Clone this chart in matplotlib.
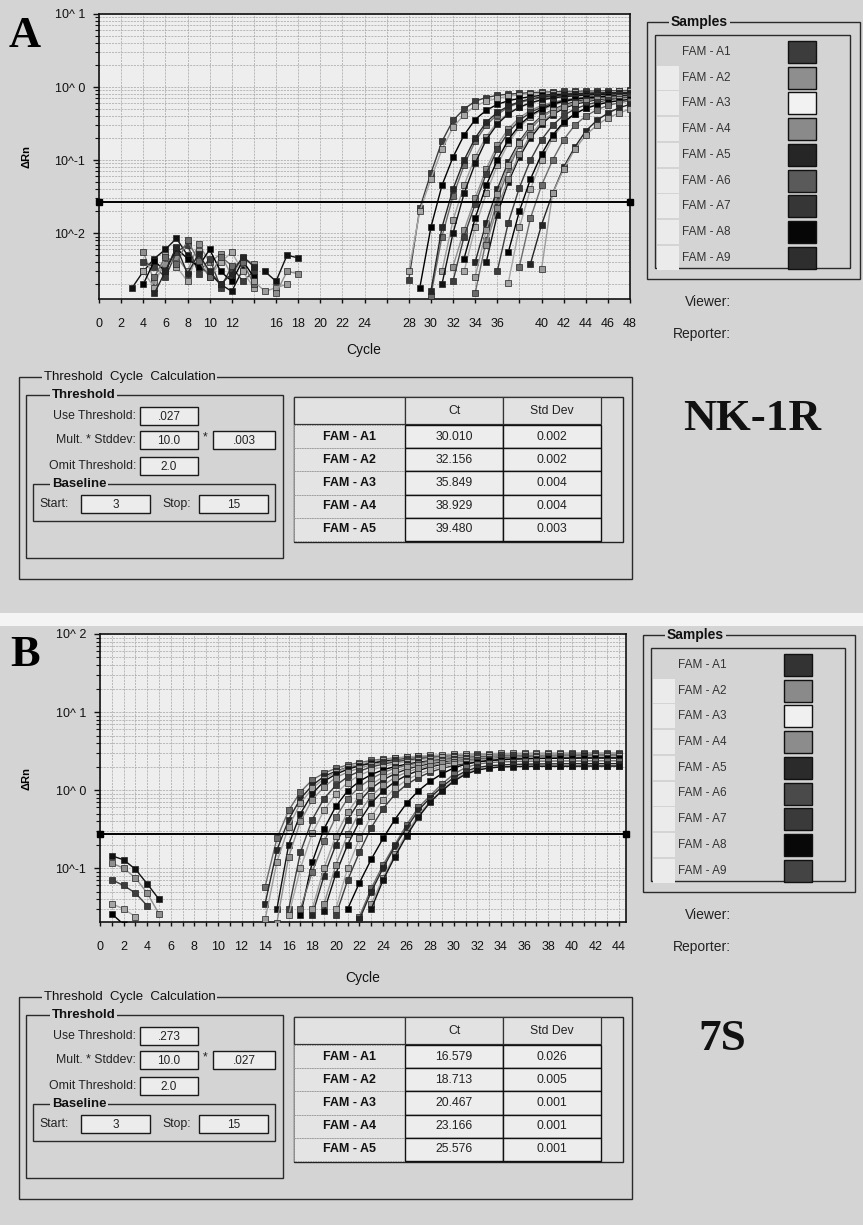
import numpy as np
import matplotlib
matplotlib.use("Agg")
from matplotlib import pyplot as plt
from matplotlib.patches import Rectangle

plt.rcParams['font.family'] = ['Liberation Sans', 'DejaVu Sans']

# ---------------- data ----------------
samples = ["FAM - A1", "FAM - A2", "FAM - A3", "FAM - A4", "FAM - A5",
           "FAM - A6", "FAM - A7", "FAM - A8", "FAM - A9"]
table_rows = samples[:5]

a_ct = ["30.010", "32.156", "35.849", "38.929", "39.480"]
a_sd = ["0.002", "0.002", "0.004", "0.004", "0.003"]
b_ct = ["16.579", "18.713", "20.467", "23.166", "25.576"]
b_sd = ["0.026", "0.005", "0.001", "0.001", "0.001"]

a_fields = {"use": ".027", "mult": "10.0", "std": ".003", "omit": "2.0", "start": "3", "stop": "15"}
b_fields = {"use": ".273", "mult": "10.0", "std": ".027", "omit": "2.0", "start": "3", "stop": "15"}

a_threshold = 0.027
b_threshold = 0.273

a_xlabels = [0, 2, 4, 6, 8, 10, 12, 16, 18, 20, 22, 24, 28, 30, 32, 34, 36, 40, 42, 44, 46, 48]
b_xlabels = list(range(0, 45, 2))
a_ylabels = {10.0: "10^ 1", 1.0: "10^ 0", 0.1: "10^-1", 0.01: "10^-2"}
b_ylabels = {100.0: "10^ 2", 10.0: "10^ 1", 1.0: "10^ 0", 0.1: "10^-1"}

# (first cycle, delta Rn per cycle)
a_curves = [
    (28, [0.0023, 0.022, 0.066, 0.18, 0.35, 0.50, 0.64, 0.72, 0.77, 0.80, 0.82, 0.84, 0.85, 0.86, 0.87, 0.87, 0.88, 0.88, 0.89, 0.89, 0.90]),
    (28, [0.0030, 0.020, 0.055, 0.14, 0.28, 0.42, 0.55, 0.64, 0.70, 0.75, 0.78, 0.80, 0.82, 0.83, 0.84, 0.85, 0.85, 0.86, 0.86, 0.87, 0.87]),
    (29, [0.0018, 0.012, 0.045, 0.11, 0.22, 0.36, 0.48, 0.58, 0.65, 0.70, 0.74, 0.77, 0.79, 0.80, 0.81, 0.82, 0.83, 0.83, 0.84, 0.84]),
    (30, [0.0014, 0.009, 0.032, 0.085, 0.18, 0.30, 0.42, 0.53, 0.61, 0.67, 0.71, 0.74, 0.76, 0.78, 0.79, 0.80, 0.81, 0.82, 0.82]),
    (30, [0.0016, 0.012, 0.040, 0.10, 0.20, 0.33, 0.45, 0.55, 0.63, 0.69, 0.73, 0.76, 0.78, 0.80, 0.81, 0.82, 0.83, 0.83, 0.84]),
    (31, [0.0030, 0.015, 0.045, 0.11, 0.21, 0.33, 0.44, 0.53, 0.60, 0.66, 0.70, 0.73, 0.75, 0.77, 0.78, 0.79, 0.80, 0.81]),
    (31, [0.0020, 0.010, 0.035, 0.09, 0.19, 0.31, 0.43, 0.53, 0.61, 0.67, 0.71, 0.74, 0.76, 0.78, 0.79, 0.80, 0.81, 0.81]),
    (32, [0.0035, 0.011, 0.030, 0.075, 0.16, 0.27, 0.38, 0.48, 0.56, 0.62, 0.67, 0.70, 0.73, 0.75, 0.76, 0.77, 0.78]),
    (32, [0.0022, 0.009, 0.025, 0.065, 0.14, 0.24, 0.35, 0.45, 0.53, 0.60, 0.65, 0.69, 0.72, 0.74, 0.75, 0.76, 0.77]),
    (33, [0.0030, 0.012, 0.035, 0.085, 0.17, 0.28, 0.39, 0.48, 0.56, 0.62, 0.67, 0.70, 0.73, 0.74, 0.75, 0.76]),
    (33, [0.0045, 0.016, 0.045, 0.10, 0.19, 0.30, 0.41, 0.50, 0.58, 0.64, 0.68, 0.71, 0.73, 0.75, 0.76, 0.77]),
    (34, [0.0015, 0.008, 0.028, 0.075, 0.16, 0.27, 0.38, 0.48, 0.56, 0.62, 0.67, 0.70, 0.72, 0.74, 0.75]),
    (34, [0.0040, 0.014, 0.040, 0.095, 0.18, 0.29, 0.40, 0.49, 0.57, 0.63, 0.67, 0.70, 0.72, 0.73, 0.74]),
    (34, [0.0025, 0.011, 0.034, 0.085, 0.17, 0.28, 0.39, 0.48, 0.55, 0.61, 0.65, 0.68, 0.70, 0.72, 0.73]),
    (35, [0.0040, 0.018, 0.050, 0.11, 0.20, 0.31, 0.42, 0.51, 0.58, 0.63, 0.67, 0.70, 0.72, 0.73]),
    (35, [0.0070, 0.022, 0.055, 0.12, 0.22, 0.33, 0.44, 0.53, 0.60, 0.65, 0.69, 0.71, 0.73, 0.74]),
    (36, [0.0030, 0.014, 0.042, 0.10, 0.19, 0.30, 0.41, 0.50, 0.57, 0.62, 0.66, 0.69, 0.71]),
    (37, [0.0021, 0.012, 0.040, 0.10, 0.20, 0.32, 0.43, 0.52, 0.59, 0.64, 0.68, 0.70]),
    (37, [0.0055, 0.020, 0.055, 0.12, 0.22, 0.33, 0.43, 0.51, 0.57, 0.62, 0.65, 0.68]),
    (38, [0.0035, 0.016, 0.045, 0.10, 0.19, 0.30, 0.40, 0.49, 0.56, 0.61, 0.65]),
    (39, [0.0038, 0.013, 0.035, 0.080, 0.15, 0.25, 0.35, 0.44, 0.52, 0.58]),
    (40, [0.0032, 0.035, 0.075, 0.14, 0.22, 0.30, 0.38, 0.44, 0.50]),
]
a_noise = [
    (3, [0.0018, 0.0030, 0.0045, 0.0060, 0.0085, 0.0050, 0.0035, 0.0028, 0.0020, 0.0016, 0.0032]),
    (4, [0.0056, 0.0022, 0.0038, 0.0048, 0.0030, 0.0072, 0.0040, 0.0052, 0.0026, 0.0046, 0.0038]),
    (4, [0.0040, 0.0035, 0.0025, 0.0055, 0.0070, 0.0028, 0.0045, 0.0018, 0.0035, 0.0022, 0.0030]),
    (4, [0.0030, 0.0018, 0.0050, 0.0035, 0.0022, 0.0058, 0.0025, 0.0040, 0.0055, 0.0030, 0.0018]),
    (4, [0.0020, 0.0042, 0.0030, 0.0062, 0.0045, 0.0035, 0.0060, 0.0030, 0.0022, 0.0042, 0.0025]),
    (5, [0.0025, 0.0048, 0.0038, 0.0080, 0.0042, 0.0025, 0.0048, 0.0036, 0.0040, 0.0020]),
    (5, [0.0015, 0.0030, 0.0065, 0.0028, 0.0052, 0.0030, 0.0020, 0.0028, 0.0048, 0.0035]),
    (14, [0.0022, 0.0016, 0.0018, 0.0020]),
    (15, [0.0030, 0.0022, 0.0050, 0.0046]),
    (16, [0.0015, 0.0030, 0.0028]),
]

b_curves = [
    (14, [.058, .24, .55, .95, 1.35, 1.65, 1.9, 2.1, 2.25, 2.4, 2.5, 2.58, 2.65, 2.7, 2.72, 2.75, 2.78, 2.8, 2.8, 2.82, 2.83, 2.84, 2.85, 2.85, 2.86, 2.86, 2.87, 2.87, 2.88, 2.88, 2.88]),
    (14, [.035, .17, .42, .78, 1.15, 1.5, 1.75, 1.95, 2.1, 2.25, 2.35, 2.45, 2.52, 2.58, 2.62, 2.65, 2.68, 2.7, 2.72, 2.73, 2.74, 2.75, 2.76, 2.76, 2.77, 2.77, 2.78, 2.78, 2.78, 2.79, 2.79]),
    (14, [.022, .12, .34, .68, 1.05, 1.4, 1.7, 1.95, 2.15, 2.3, 2.45, 2.55, 2.65, 2.72, 2.78, 2.82, 2.86, 2.9, 2.92, 2.94, 2.95, 2.96, 2.97, 2.98, 2.98, 2.99, 2.99, 3.0, 3.0, 3.0, 3.0]),
    (15, [.03, .2, .5, .9, 1.3, 1.6, 1.85, 2.05, 2.2, 2.32, 2.42, 2.5, 2.56, 2.6, 2.63, 2.66, 2.68, 2.7, 2.71, 2.72, 2.73, 2.74, 2.74, 2.75, 2.75, 2.76, 2.76, 2.76, 2.77, 2.77]),
    (15, [.02, .14, .4, .75, 1.1, 1.45, 1.7, 1.92, 2.1, 2.25, 2.38, 2.48, 2.56, 2.62, 2.68, 2.72, 2.75, 2.78, 2.8, 2.82, 2.83, 2.84, 2.85, 2.86, 2.86, 2.87, 2.87, 2.88, 2.88, 2.88]),
    (16, [.03, .16, .42, .78, 1.15, 1.48, 1.75, 1.98, 2.15, 2.3, 2.42, 2.52, 2.6, 2.66, 2.7, 2.74, 2.77, 2.79, 2.81, 2.82, 2.83, 2.84, 2.85, 2.85, 2.86, 2.86, 2.87, 2.87, 2.87]),
    (16, [.025, .1, .28, .55, .9, 1.25, 1.55, 1.8, 2.0, 2.18, 2.32, 2.44, 2.54, 2.62, 2.68, 2.73, 2.77, 2.8, 2.82, 2.84, 2.86, 2.87, 2.88, 2.89, 2.9, 2.9, 2.91, 2.91, 2.91]),
    (17, [.025, .12, .32, .62, .98, 1.3, 1.58, 1.82, 2.0, 2.15, 2.28, 2.38, 2.46, 2.52, 2.57, 2.6, 2.63, 2.65, 2.67, 2.68, 2.69, 2.7, 2.7, 2.71, 2.71, 2.72, 2.72, 2.72]),
    (17, [.03, .09, .22, .45, .78, 1.1, 1.4, 1.68, 1.9, 2.08, 2.22, 2.34, 2.44, 2.52, 2.58, 2.63, 2.67, 2.7, 2.72, 2.74, 2.75, 2.76, 2.77, 2.78, 2.78, 2.79, 2.79, 2.79]),
    (18, [.025, .08, .2, .42, .72, 1.05, 1.35, 1.62, 1.85, 2.03, 2.18, 2.3, 2.4, 2.48, 2.54, 2.58, 2.62, 2.65, 2.67, 2.69, 2.7, 2.71, 2.72, 2.72, 2.73, 2.73, 2.73]),
    (18, [.03, .1, .26, .52, .85, 1.18, 1.48, 1.74, 1.95, 2.12, 2.26, 2.37, 2.46, 2.53, 2.58, 2.62, 2.65, 2.68, 2.7, 2.71, 2.72, 2.73, 2.74, 2.74, 2.75, 2.75, 2.75]),
    (19, [.028, .085, .2, .4, .68, .98, 1.28, 1.55, 1.78, 1.98, 2.14, 2.27, 2.37, 2.45, 2.51, 2.56, 2.6, 2.63, 2.65, 2.67, 2.68, 2.69, 2.7, 2.7, 2.71, 2.71]),
    (19, [.035, .11, .27, .52, .84, 1.15, 1.45, 1.7, 1.9, 2.06, 2.2, 2.3, 2.38, 2.45, 2.5, 2.54, 2.57, 2.6, 2.62, 2.63, 2.64, 2.65, 2.66, 2.66, 2.67, 2.67]),
    (20, [.025, .07, .16, .33, .58, .88, 1.18, 1.45, 1.7, 1.9, 2.06, 2.2, 2.3, 2.38, 2.44, 2.49, 2.53, 2.56, 2.58, 2.6, 2.61, 2.62, 2.63, 2.63, 2.64]),
    (20, [.03, .1, .24, .46, .75, 1.05, 1.35, 1.6, 1.82, 2.0, 2.15, 2.27, 2.37, 2.45, 2.51, 2.56, 2.6, 2.63, 2.65, 2.67, 2.68, 2.69, 2.7, 2.7, 2.71]),
    (21, [.03, .065, .13, .24, .42, .68, .98, 1.3, 1.62, 1.92, 2.15, 2.3, 2.4, 2.46, 2.5, 2.52, 2.54, 2.55, 2.56, 2.56, 2.57, 2.57, 2.57, 2.57]),
    (22, [.024, .055, .11, .2, .36, .6, .85, 1.2, 1.6, 1.95, 2.15, 2.25, 2.3, 2.32, 2.34, 2.35, 2.35, 2.36, 2.36, 2.36, 2.37, 2.37, 2.37]),
    (22, [.022, .05, .1, .19, .33, .55, .8, 1.1, 1.45, 1.75, 1.95, 2.05, 2.1, 2.13, 2.15, 2.16, 2.17, 2.17, 2.18, 2.18, 2.18, 2.18, 2.18]),
    (23, [.035, .075, .15, .28, .48, .72, 1.0, 1.35, 1.65, 1.85, 1.95, 2.0, 2.02, 2.03, 2.04, 2.04, 2.05, 2.05, 2.05, 2.05, 2.05, 2.05]),
    (23, [.03, .07, .14, .26, .45, .7, .98, 1.3, 1.6, 1.8, 1.92, 1.98, 2.0, 2.01, 2.02, 2.02, 2.02, 2.02, 2.03, 2.03, 2.03, 2.03]),
]
b_early = [
    (1, [0.144, 0.128, 0.097, 0.063, 0.040]),
    (1, [0.116, 0.100, 0.075, 0.048, 0.026]),
    (1, [0.071, 0.060, 0.048, 0.033]),
    (1, [0.035, 0.030, 0.024]),
    (1, [0.026, 0.019]),
]

a_swatches = ['#3c3c3c', '#8e8e8e', '#f2f2f2', '#8a8a8a', '#262626', '#5a5a5a', '#363636', '#060606', '#2e2e2e']
b_swatches = ['#333333', '#8a8a8a', '#f0f0f0', '#8c8c8c', '#2b2b2b', '#4a4a4a', '#3a3a3a', '#080808', '#444444']

# ---------------- styling ----------------
W, H = 863, 1225
BG = '#d4d4d4'
PLOT_BG = '#eeeeee'
FIELD = '#ececec'
GRID = '#a4a4a4'
LINE = '#2a2a2a'
series_colors = ['#111111', '#8f8f8f', '#3d3d3d', '#a6a6a6', '#000000', '#6b6b6b', '#262626', '#9c9c9c']
UI = 8.8

fig = plt.figure(figsize=(W / 100, H / 100), dpi=100)
fig.patch.set_facecolor(BG)

ov = fig.add_axes([0, 0, 1, 1], zorder=0)
ov.set_xlim(0, W)
ov.set_ylim(H, 0)
ov.axis('off')
ov.add_patch(Rectangle((0, 613), W, 13, fc='#f4f4f4', ec='none'))


def draw_plot(rect, curves, extra, thr, xmax, ylim, step, xlabels, ylabels):
    l, t, r, b = rect
    ax = fig.add_axes([l / W, 1 - b / H, (r - l) / W, (b - t) / H], zorder=3)
    ax.set_facecolor(PLOT_BG)
    ax.set_yscale('log')
    ax.set_xlim(0, xmax)
    ax.set_ylim(*ylim)
    ticks = np.arange(0, xmax + 0.01, step)
    ax.set_xticks(ticks)
    ax.set_xticklabels([str(int(v)) if int(v) in xlabels and abs(v - int(v)) < 1e-6 else '' for v in ticks],
                       fontsize=9)
    ax.set_yticks(list(ylabels.keys()))
    ax.set_yticklabels(list(ylabels.values()), fontsize=9)
    ax.tick_params(axis='x', direction='out', length=3, width=1, pad=11, colors='#111')
    ax.tick_params(axis='y', which='major', direction='out', length=4, width=1, pad=6, colors='#111')
    ax.tick_params(axis='y', which='minor', direction='out', length=3, width=0.8, colors='#111')
    ax.yaxis.set_minor_formatter(plt.NullFormatter())
    ax.xaxis.grid(True, color=GRID, lw=0.5, ls=(0, (3, 1.5)))
    ax.yaxis.grid(True, which='both', color=GRID, lw=0.5, ls=(0, (3, 1.5)))
    ax.set_axisbelow(True)
    for s in ax.spines.values():
        s.set_linewidth(1.2)
        s.set_color('#111')
    for i, (start, vals) in enumerate(extra + curves):
        c = series_colors[i % len(series_colors)]
        x = np.arange(start, start + len(vals))
        ax.plot(x, vals, '-', color=c, lw=1.0, marker='s', ms=4.2, mfc=c, mec='#222', mew=0.5, zorder=3)
    ax.plot([0, xmax], [thr, thr], color='#000', lw=1.4, marker='s', ms=4.5, clip_on=False, zorder=6)
    return ax


def group(x0, y0, x1, y1, title, tx, bold=False, size=8):
    ov.add_patch(Rectangle((x0, y0), x1 - x0, y1 - y0, fill=False, ec=LINE, lw=1.0))
    ov.text(tx, y0, title, ha='left', va='center', fontsize=size, color='#111',
            fontweight='bold' if bold else 'normal', bbox=dict(fc=BG, ec='none', pad=1.2))


def field(x0, x1, yc, text, h=18):
    ov.add_patch(Rectangle((x0, yc - h / 2), x1 - x0, h, fc=FIELD, ec='#1a1a1a', lw=1.0))
    ov.text((x0 + x1) / 2, yc + 1, text, ha='center', va='center', fontsize=8.5, color='#222')


def bottom_section(dy, vals, ct, sd, name, name_x):
    group(19, 377 + dy, 632, 579 + dy, 'Threshold  Cycle  Calculation', 44, size=9.5)
    group(26, 395 + dy, 283, 558 + dy, 'Threshold', 52, bold=True, size=9.5)
    ov.text(136, 416 + dy, 'Use Threshold:', ha='right', va='center', fontsize=UI, color='#222')
    field(140, 198, 416 + dy, vals['use'])
    ov.text(136, 440 + dy, 'Mult. * Stddev:', ha='right', va='center', fontsize=UI, color='#222')
    field(140, 198, 440 + dy, vals['mult'])
    ov.text(205, 437 + dy, '*', ha='center', va='center', fontsize=UI, color='#222')
    field(213, 275, 440 + dy, vals['std'])
    ov.text(136, 466 + dy, 'Omit Threshold:', ha='right', va='center', fontsize=UI, color='#222')
    field(140, 198, 466 + dy, vals['omit'])
    group(33, 484 + dy, 275, 521 + dy, 'Baseline', 52, bold=True, size=9.5)
    ov.text(39, 504 + dy, 'Start:', ha='left', va='center', fontsize=UI, color='#222')
    field(81, 150, 504 + dy, vals['start'])
    ov.text(162, 504 + dy, 'Stop:', ha='left', va='center', fontsize=UI, color='#222')
    field(199, 268, 504 + dy, vals['stop'])

    # results table
    cols = [294, 405, 503, 601, 623]
    top, hh, rh = 397 + dy, 27, 23.2
    ov.add_patch(Rectangle((cols[0], top), cols[4] - cols[0], hh + rh * len(ct) + 2,
                           fc='#dcdcdc', ec='#222', lw=1.0))
    ov.add_patch(Rectangle((cols[0], top), cols[1] - cols[0], hh, fc='#e2e2e2', ec='#333', lw=0.9))
    for j, head in enumerate(['Ct', 'Std Dev']):
        ov.add_patch(Rectangle((cols[j + 1], top), cols[j + 2] - cols[j + 1], hh, fc='#e2e2e2', ec='#333', lw=0.9))
        ov.text((cols[j + 1] + cols[j + 2]) / 2, top + hh / 2, head, ha='center', va='center',
                fontsize=UI, color='#222')
    for i, row in enumerate(table_rows[:len(ct)]):
        y0 = top + hh + 1 + i * rh
        ov.add_patch(Rectangle((cols[0], y0), cols[1] - cols[0], rh, fc='#e4e4e4', ec='#999', lw=0.6,
                               ls=(0, (2, 1))))
        ov.text((cols[0] + cols[1]) / 2, y0 + rh / 2, row, ha='center', va='center', fontsize=9,
                color='#111', fontweight='bold')
        for j, v in enumerate([ct[i], sd[i]]):
            ov.add_patch(Rectangle((cols[j + 1], y0), cols[j + 2] - cols[j + 1], rh, fc='#ededed',
                                   ec='#111', lw=1.0))
            ov.text((cols[j + 1] + cols[j + 2]) / 2, y0 + rh / 2, v, ha='center', va='center',
                    fontsize=UI, color='#222')
    ov.text(name_x, 419 + dy, name, ha='center', va='center', fontsize=32.5, fontweight='bold',
            family='Liberation Serif', color='#111')


def legend(x0, x1, top, swatches):
    group(x0, top, x1, top + 257, 'Samples', x0 + 24, bold=True, size=10)
    ix0, ix1 = x0 + 8, x1 - 10
    ov.add_patch(Rectangle((ix0, top + 13), ix1 - ix0, 233, fill=False, ec=LINE, lw=1.0))
    for i, (name, col) in enumerate(zip(samples, swatches)):
        yc = top + 30 + i * 25.7
        if i > 0:
            ov.add_patch(Rectangle((ix0 + 2, yc - 12), 22, 24, fc='#ebebeb', ec='none'))
        ov.text(x0 + 35, yc, name, ha='left', va='center', fontsize=8.5, color='#333')
        ov.add_patch(Rectangle((x0 + 141, yc - 11), 28, 22, fc=col, ec='#111', lw=1.0))
    ov.text(731, top + 280, 'Viewer:', ha='right', va='center', fontsize=10, color='#222')
    ov.text(731, top + 312, 'Reporter:', ha='right', va='center', fontsize=10, color='#222')


# ---------------- panel A ----------------
ov.text(25, 36, 'A', ha='center', va='center', fontsize=32, fontweight='bold', family='Liberation Serif')
draw_plot((99, 14, 630, 299), a_curves, a_noise, a_threshold, 48, (10 ** -2.9, 10), 2, a_xlabels, a_ylabels)
ov.text(364, 350, 'Cycle', ha='center', va='center', fontsize=10, color='#111')
ov.text(26, 157, 'ΔRn', ha='center', va='center', rotation=90, fontsize=8, fontweight='bold')
legend(647, 860, 22, a_swatches)
bottom_section(0, a_fields, a_ct, a_sd, 'NK-1R', 752)

# ---------------- panel B ----------------
ov.text(25, 655, 'B', ha='center', va='center', fontsize=32, fontweight='bold', family='Liberation Serif')
draw_plot((100, 634, 626, 922), b_curves, b_early, b_threshold, 44.6, (10 ** -1.69, 100), 1, b_xlabels, b_ylabels)
ov.text(363, 978, 'Cycle', ha='center', va='center', fontsize=10, color='#111')
ov.text(26, 778, 'ΔRn', ha='center', va='center', rotation=90, fontsize=8, fontweight='bold')
legend(643, 855, 635, b_swatches)
bottom_section(620, b_fields, b_ct, b_sd, '7S', 722)

fig.savefig('out.png', dpi=100, facecolor=BG)
